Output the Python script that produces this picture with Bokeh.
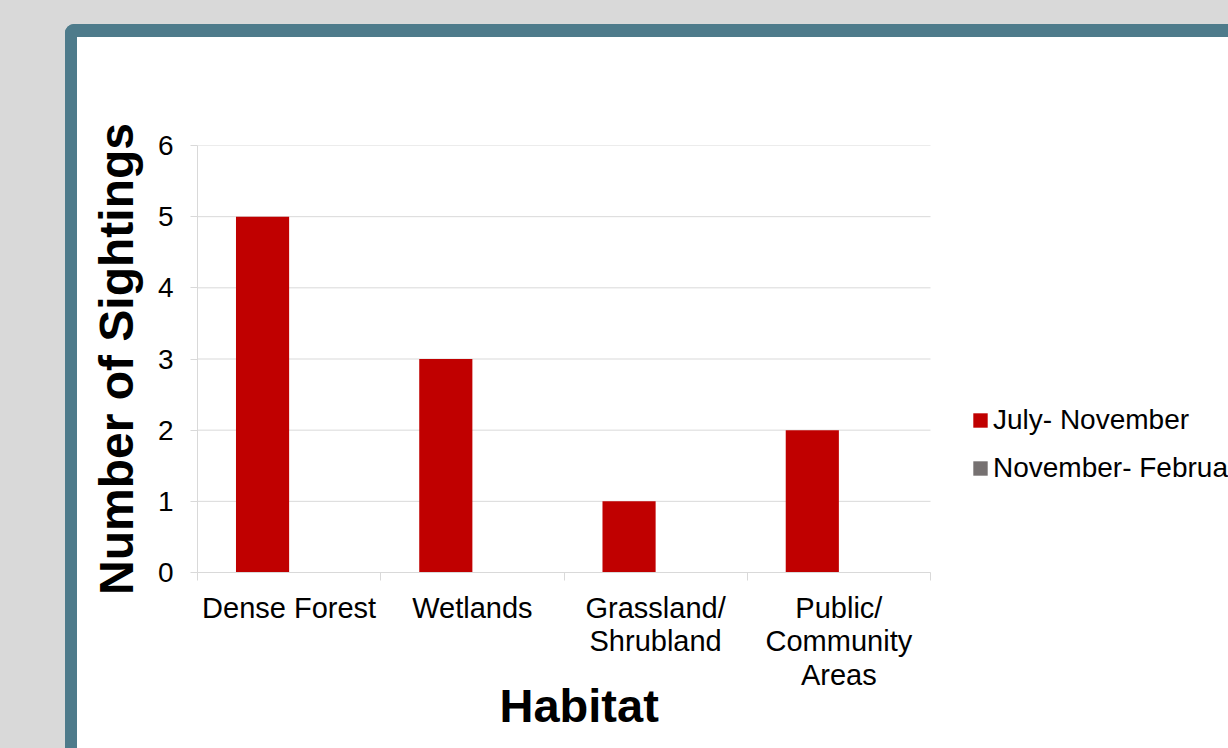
from bokeh.plotting import figure
from bokeh.models import Range1d, FixedTicker, Legend, LegendItem, ColumnDataSource, Title
from bokeh.layouts import column
from bokeh.embed import file_html
from bokeh.resources import INLINE

# ---- data ----
habitats = ["Dense Forest", "Wetlands", "Grassland/\nShrubland", "Public/\nCommunity\nAreas"]
series_names = ["July- November", "November- February"]
july_nov = [5, 3, 1, 2]
nov_feb = [0, 0, 0, 0]
y_ticks = [0, 1, 2, 3, 4, 5, 6]
colors = ["#c00000", "#767171"]
x_title = "Habitat"
y_title = "Number of Sightings"

FONT = "Liberation Sans"
GRID = "#d9d9d9"

n = len(habitats)
centers = [i + 0.5 for i in range(n)]
boundaries = [i for i in range(n + 1)]

# layout (pixels): canvas size, left margin, width of the data area
W, H = 1151, 711
LEFT = 120
DATA_PX = 733
frame_px = W - LEFT
x_end = n * frame_px / DATA_PX   # frame extends right so the legend (outside data area) is not clipped

p = figure(width=W, height=H, output_backend="svg", toolbar_location=None,
           x_range=Range1d(0, x_end), y_range=Range1d(0, 6),
           min_border_left=LEFT, min_border_right=0, min_border_top=108, min_border_bottom=176,
           background_fill_color="white", border_fill_color="white")
p.outline_line_color = None

# horizontal gridlines limited to the category area
p.segment(x0=[0] * len(y_ticks), x1=[n] * len(y_ticks), y0=y_ticks, y1=y_ticks,
          line_color=GRID, line_width=1, level="underlay")

bar_w = 0.29
src = ColumnDataSource(dict(
    x1=[c - bar_w / 2 for c in centers], x2=[c + bar_w / 2 for c in centers],
    s1=july_nov, s2=nov_feb))
r1 = p.vbar(x="x1", top="s1", width=bar_w, bottom=0, source=src, fill_color=colors[0], line_color=None)
r2 = p.vbar(x="x2", top="s2", width=bar_w, bottom=0, source=src, fill_color=colors[1], line_color=None)

# x axis
p.xaxis.ticker = FixedTicker(ticks=centers, minor_ticks=boundaries)
p.xaxis.bounds = (0, n)
p.xaxis.major_label_overrides = {c: h for c, h in zip(centers, habitats)}
p.xaxis.major_tick_out = 0
p.xaxis.major_tick_in = 0
p.xaxis.minor_tick_out = 8
p.xaxis.minor_tick_in = 0
p.xaxis.minor_tick_line_color = GRID
p.xaxis.axis_line_color = GRID
p.xaxis.major_label_standoff = 11
p.xaxis.major_label_text_font = FONT
p.xaxis.major_label_text_font_size = "29px"
p.xaxis.major_label_text_line_height = 1.05
p.xaxis.major_label_text_color = "black"

p.add_layout(Title(text=x_title, align="left", offset=302, standoff=-34,
                   text_font=FONT, text_font_style="bold", text_font_size="47px",
                   text_color="black"), "below")

# y axis
p.yaxis.ticker = FixedTicker(ticks=y_ticks)
p.yaxis.major_tick_out = 7
p.yaxis.major_tick_in = 0
p.yaxis.minor_tick_line_color = None
p.yaxis.major_tick_line_color = GRID
p.yaxis.axis_line_color = GRID
p.yaxis.major_label_standoff = 17
p.yaxis.major_label_text_font = FONT
p.yaxis.major_label_text_font_size = "28px"
p.yaxis.major_label_text_color = "black"
p.yaxis.axis_label = y_title
p.yaxis.axis_label_text_font = FONT
p.yaxis.axis_label_text_font_style = "bold"
p.yaxis.axis_label_text_font_size = "48px"
p.yaxis.axis_label_text_color = "black"
p.yaxis.axis_label_standoff = 12

p.xgrid.visible = False
p.ygrid.visible = False

legend = Legend(items=[LegendItem(label=series_names[0], renderers=[r1]),
                       LegendItem(label=series_names[1], renderers=[r2])],
                location=(774, 88), orientation="vertical",
                glyph_width=18, glyph_height=18, label_standoff=4,
                label_text_font=FONT, label_text_font_size="28px", label_text_color="black",
                label_height=32, spacing=16, padding=0, margin=0,
                border_line_color=None, background_fill_alpha=0)
p.add_layout(legend, "center")

inner = column(p, styles={"border-left": "12px solid #4e7b8b", "border-top": "13px solid #4e7b8b",
                          "border-top-left-radius": "9px", "background-color": "white"})
layout = column(inner, styles={"background-color": "#d9d9d9", "padding-left": "65px", "padding-top": "24px"})

open("out.html", "w").write(file_html(layout, INLINE))
